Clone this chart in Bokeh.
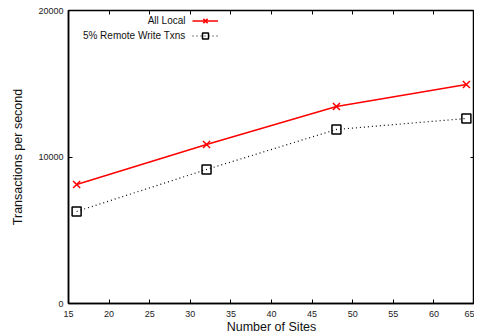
from bokeh.plotting import figure
from bokeh.models import (Range1d, LinearAxis, FixedTicker, Legend, LegendItem, Label,
                          CustomJSTickFormatter)
from bokeh.embed import file_html
from bokeh.resources import INLINE

sites = [16, 32, 48, 64]
all_local = [8120, 10850, 13450, 14950]
remote_5pct = [6280, 9150, 11880, 12630]
x_ticks = [15, 20, 25, 30, 35, 40, 45, 50, 55, 60, 65]
y_ticks = [0, 10000, 20000]
series_names = ["All Local", "5% Remote Write Txns"]

FONT = "Liberation Sans"

p = figure(frame_width=406, frame_height=293, output_backend="svg", toolbar_location=None,
           x_range=Range1d(15, 65), y_range=Range1d(0, 20000),
           min_border_left=68, min_border_right=0, min_border_top=10, min_border_bottom=0,
           x_axis_label="Number of Sites", y_axis_label="Transactions per second")
p.xgrid.visible = False
p.ygrid.visible = False
p.outline_line_color = "black"
p.outline_line_width = 1.5
p.background_fill_color = "white"
p.border_fill_color = "white"

p.xaxis.ticker = FixedTicker(ticks=x_ticks)
p.yaxis.ticker = FixedTicker(ticks=y_ticks)
for ax in (p.xaxis[0], p.yaxis[0]):
    ax.major_tick_in = 4
    ax.major_tick_out = 0
    ax.minor_tick_line_color = None
    ax.axis_line_color = "black"
    ax.axis_line_width = 1.5
    ax.major_label_text_font = FONT
    ax.major_label_text_font_size = "9px"
    ax.major_label_text_color = "#222222"
    ax.axis_label_text_font = FONT
    ax.axis_label_text_font_size = "12.5px"
    ax.axis_label_text_font_style = "normal"
    ax.axis_label_text_color = "#111111"
p.xaxis.major_label_standoff = 7
p.xaxis.axis_label_standoff = 0
p.yaxis.major_label_standoff = 5
p.yaxis.axis_label_standoff = 10

blank = CustomJSTickFormatter(code="return ''")
top_ax = LinearAxis(ticker=FixedTicker(ticks=x_ticks), major_tick_in=4, major_tick_out=0,
                    minor_tick_line_color=None, formatter=blank,
                    major_label_standoff=0, axis_line_color=None)
right_ax = LinearAxis(ticker=FixedTicker(ticks=y_ticks), major_tick_in=4, major_tick_out=0,
                      minor_tick_line_color=None, formatter=blank,
                      major_label_standoff=0, axis_line_color=None)
p.add_layout(top_ax, "above")
p.add_layout(right_ax, "right")

l1 = p.line(sites, all_local, line_color="red", line_width=1.5)
m1 = p.scatter(sites, all_local, marker="x", size=10, line_color="red", line_width=1.5)
l2 = p.line(sites, remote_5pct, line_color="black", line_width=1.2, line_dash="1 3")
m2 = p.scatter(sites, remote_5pct, marker="square", size=9, line_color="black",
               line_width=1.5, fill_color=None)

legend = Legend(items=[LegendItem(label=" ", renderers=[l1, m1]),
                       LegendItem(label=" ", renderers=[l2, m2])],
                location=(124, 260), padding=0, spacing=0, margin=0,
                glyph_width=26, glyph_height=15, label_height=15, label_width=0,
                label_standoff=0, border_line_color=None, background_fill_alpha=0,
                label_text_font_size="9px")
p.add_layout(legend, "center")

for name, yy in zip(series_names, [283, 268]):
    p.add_layout(Label(x=117, y=yy, x_units="screen", y_units="screen", text=name,
                       text_align="right", text_baseline="middle",
                       text_font=FONT, text_font_size="10px", text_color="#111111"))

open("out.html", "w").write(file_html(p, INLINE))
